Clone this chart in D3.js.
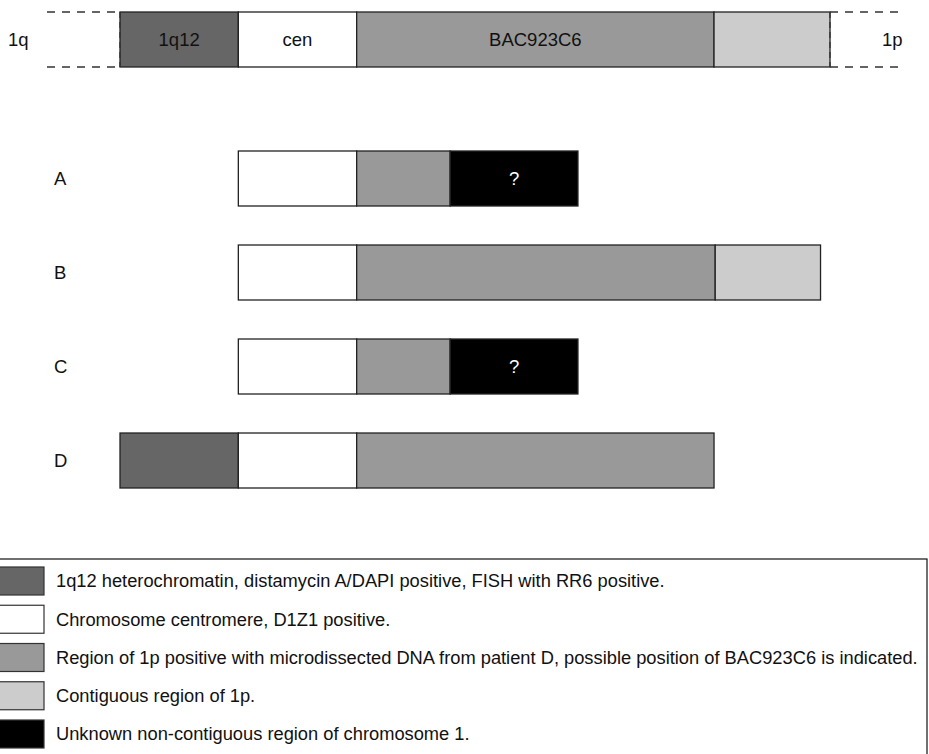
<!DOCTYPE html>
<html>
  <head>
    <meta charset="UTF-8" />
    <style>
      body { margin: 0; background: #fff; }
      text { font-family: "Liberation Sans", Arial, sans-serif; fill: #111; }
    </style>
  </head>
  <body>
    <svg></svg>
    <script src="https://cdn.jsdelivr.net/npm/d3@7"></script>
    <script>
      let width = 929,
        height = 754;

      // segment types and their fills
      const types = ["het", "cen", "reg", "contig", "unknown"];
      const fills = ["#666666", "#ffffff", "#999999", "#cccccc", "#000000"];
      const legendText = [
        "1q12 heterochromatin, distamycin A/DAPI positive, FISH with RR6 positive.",
        "Chromosome centromere, D1Z1 positive.",
        "Region of 1p positive with microdissected DNA from patient D, possible position of BAC923C6 is indicated.",
        "Contiguous region of 1p.",
        "Unknown non-contiguous region of chromosome 1.",
      ];

      // reference chromosome (units along chromosome, 1q12 start = 0)
      const refSegments = [
        { type: "het", start: 0, end: 1, label: "1q12" },
        { type: "cen", start: 1, end: 2, label: "cen" },
        { type: "reg", start: 2, end: 5.02, label: "BAC923C6" },
        { type: "contig", start: 5.02, end: 6, label: "" },
      ];

      // patients
      const patients = ["A", "B", "C", "D"];
      const segA = [
        { type: "cen", start: 1, end: 2 },
        { type: "reg", start: 2, end: 2.79 },
        { type: "unknown", start: 2.79, end: 3.87, label: "?" },
      ];
      const segB = [
        { type: "cen", start: 1, end: 2 },
        { type: "reg", start: 2, end: 5.03 },
        { type: "contig", start: 5.03, end: 5.92 },
      ];
      const segC = [
        { type: "cen", start: 1, end: 2 },
        { type: "reg", start: 2, end: 2.79 },
        { type: "unknown", start: 2.79, end: 3.87, label: "?" },
      ];
      const segD = [
        { type: "het", start: 0, end: 1 },
        { type: "cen", start: 1, end: 2 },
        { type: "reg", start: 2, end: 5.02 },
      ];
      const patientSegments = [segA, segB, segC, segD];

      let svg = d3
        .select("svg")
        .attr("width", width)
        .attr("height", height)
        .attr("viewBox", "0 0 " + width + " " + height);

      let x = d3.scaleLinear().domain([0, 6]).range([120, 830]);
      let color = d3.scaleOrdinal().domain(types).range(fills);
      let y = d3
        .scaleBand()
        .domain(patients)
        .range([151, 488])
        .paddingInner(0.415)
        .paddingOuter(0);

      const topY = 12,
        barH = y.bandwidth(),
        labelSize = 18.5;

      // top reference chromosome
      let refG = svg.append("g");
      refG
        .selectAll("rect")
        .data(refSegments)
        .enter()
        .append("rect")
        .attr("x", (d) => x(d.start))
        .attr("y", topY)
        .attr("width", (d) => x(d.end) - x(d.start))
        .attr("height", barH)
        .attr("fill", (d) => color(d.type))
        .attr("stroke", "#222")
        .attr("stroke-width", 1.3);
      refG
        .selectAll("text")
        .data(refSegments)
        .enter()
        .append("text")
        .attr("x", (d) => (x(d.start) + x(d.end)) / 2)
        .attr("y", topY + barH / 2)
        .attr("dy", "0.35em")
        .attr("text-anchor", "middle")
        .attr("font-size", labelSize)
        .text((d) => d.label);

      // dashed continuation lines
      let dash = svg.append("g").attr("stroke", "#333").attr("stroke-width", 1.3).attr("stroke-dasharray", "8,7");
      [[47, x(0)], [x(6), 900]].forEach(function (r) {
        dash.append("line").attr("x1", r[0]).attr("x2", r[1]).attr("y1", topY).attr("y2", topY);
        dash.append("line").attr("x1", r[0]).attr("x2", r[1]).attr("y1", topY + barH).attr("y2", topY + barH);
      });
      dash.append("line").attr("x1", x(0)).attr("x2", x(0)).attr("y1", topY).attr("y2", topY + barH).attr("stroke-dasharray", "6,4");
      dash.append("line").attr("x1", x(6)).attr("x2", x(6)).attr("y1", topY).attr("y2", topY + barH).attr("stroke-dasharray", "6,4");

      svg.append("text").attr("x", 8).attr("y", topY + barH / 2).attr("dy", "0.35em").attr("font-size", labelSize).text("1q");
      svg.append("text").attr("x", 882).attr("y", topY + barH / 2).attr("dy", "0.35em").attr("font-size", labelSize).text("1p");

      // patient rows
      patients.forEach(function (p, i) {
        let g = svg.append("g");
        g.append("text")
          .attr("x", 54)
          .attr("y", y(p) + barH / 2)
          .attr("dy", "0.35em")
          .attr("font-size", labelSize)
          .text(p);
        g.selectAll("rect")
          .data(patientSegments[i])
          .enter()
          .append("rect")
          .attr("x", (d) => x(d.start))
          .attr("y", y(p))
          .attr("width", (d) => x(d.end) - x(d.start))
          .attr("height", barH)
          .attr("fill", (d) => color(d.type))
          .attr("stroke", "#222")
          .attr("stroke-width", 1.3);
        g.selectAll("text.q")
          .data(patientSegments[i].filter((d) => d.label))
          .enter()
          .append("text")
          .attr("class", "q")
          .attr("x", (d) => (x(d.start) + x(d.end)) / 2)
          .attr("y", y(p) + barH / 2)
          .attr("dy", "0.35em")
          .attr("text-anchor", "middle")
          .attr("font-size", labelSize)
          .style("fill", "#fff")
          .text((d) => d.label);
      });

      // legend
      let legend = svg.append("g");
      legend
        .append("rect")
        .attr("x", -2)
        .attr("y", 559)
        .attr("width", 929)
        .attr("height", 210)
        .attr("fill", "none")
        .attr("stroke", "#111")
        .attr("stroke-width", 1.2);
      let ly = d3.scalePoint().domain(types).range([581, 734]);
      legend
        .selectAll("rect.sw")
        .data(types)
        .enter()
        .append("rect")
        .attr("class", "sw")
        .attr("x", -2)
        .attr("y", (d) => ly(d) - 14)
        .attr("width", 46)
        .attr("height", 28)
        .attr("fill", (d) => color(d))
        .attr("stroke", "#333")
        .attr("stroke-width", 1.2);
      legend
        .selectAll("text")
        .data(types)
        .enter()
        .append("text")
        .attr("x", 56)
        .attr("y", (d) => ly(d))
        .attr("dy", "0.35em")
        .attr("font-size", 18.3)
        .text((d, i) => legendText[i]);
    </script>
  </body>
</html>
